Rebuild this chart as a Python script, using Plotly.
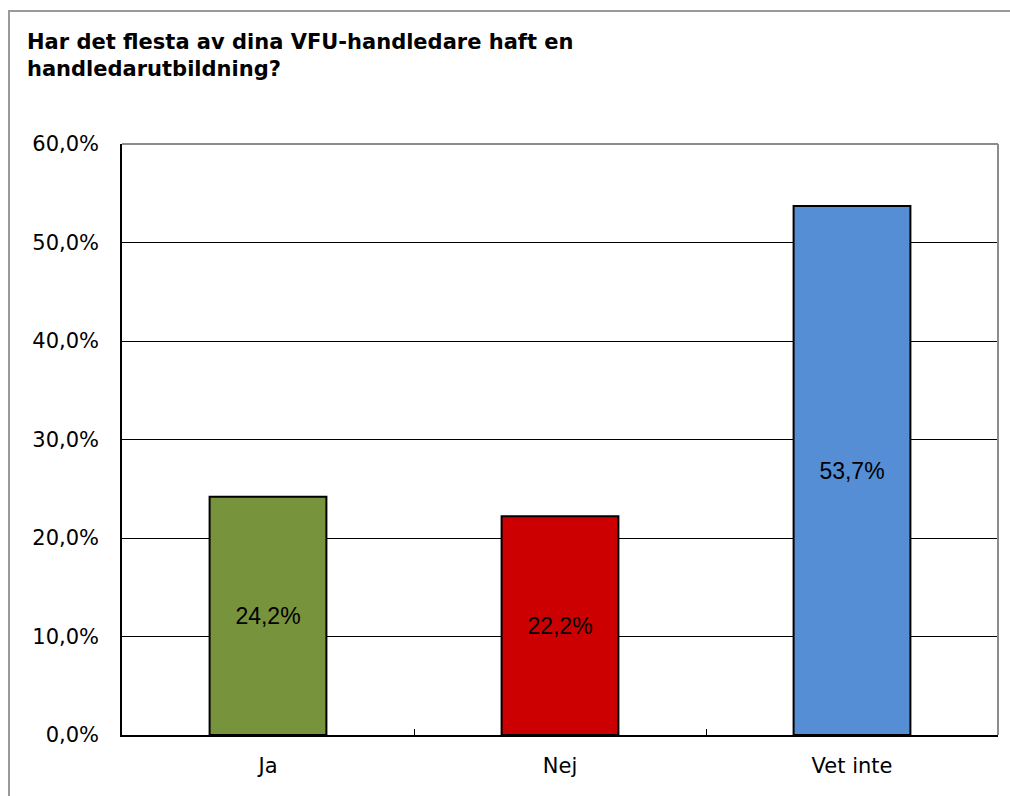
import plotly.graph_objects as go

categories = ["Ja", "Nej", "Vet inte"]
values = [24.2, 22.2, 53.7]
bar_labels = ["24,2%", "22,2%", "53,7%"]
bar_colors = ["#77933C", "#CC0000", "#558ED5"]
y_tickvals = [0, 10, 20, 30, 40, 50, 60]
y_ticktext = ["0,0%", "10,0%", "20,0%", "30,0%", "40,0%", "50,0%", "60,0%"]
title_text = "Har det flesta av dina VFU-handledare haft en<br>handledarutbildning?"

W, H = 1010, 796
L, R, T, B = 122, 12, 144, 61
pw, ph = W - L - R, H - T - B

def px_x(p):
    return (p - L) / pw

def px_y(p):
    return (H - B - p) / ph

fig = go.Figure()
fig.add_trace(go.Bar(
    x=categories, y=values,
    marker=dict(color=bar_colors, line=dict(color="black", width=2)),
    text=bar_labels, textposition="inside", insidetextanchor="middle",
    textfont=dict(family="Liberation Sans, Arial", size=23, color="black"),
    width=0.4, cliponaxis=False,
))

fig.update_layout(
    width=W, height=H,
    margin=dict(l=L, r=R, t=T, b=B, pad=0),
    paper_bgcolor="white", plot_bgcolor="white",
    showlegend=False,
    title=dict(
        text=title_text, xref="container", yref="container",
        x=27 / W, xanchor="left", y=1 - 49 / H, yanchor="top",
        font=dict(family="DejaVu Sans", size=21, color="black", weight="bold"),
    ),
    xaxis=dict(
        showgrid=False, showline=True, linecolor="black", linewidth=1.5,
        ticks="inside", tickson="boundaries", ticklen=6, tickcolor="black",
        tickfont=dict(family="DejaVu Sans", size=21, color="black"),
        zeroline=False, fixedrange=True,
    ),
    yaxis=dict(
        range=[0, 60], tickvals=y_tickvals, ticktext=y_ticktext,
        showgrid=True, gridcolor="black", gridwidth=1,
        showline=True, linecolor="black", linewidth=1.5,
        ticks="", tickfont=dict(family="DejaVu Sans", size=21, color="black"),
        zeroline=False, fixedrange=True,
    ),
    bargap=0.6,
)
fig.update_xaxes(ticklabelstandoff=11)
fig.update_yaxes(ticklabelstandoff=17)

# plot-area frame (top and right in grey)
fig.add_shape(type="line", xref="paper", yref="paper", x0=0, x1=1, y0=1, y1=1,
              line=dict(color="#8c8c8c", width=2))
fig.add_shape(type="line", xref="paper", yref="paper", x0=1, x1=1, y0=0, y1=1,
              line=dict(color="#8c8c8c", width=2))
# outer chart border
fig.add_shape(type="rect", xref="paper", yref="paper",
              x0=px_x(9), x1=px_x(1020), y0=px_y(806), y1=px_y(11),
              line=dict(color="#9a9a9a", width=2), layer="below")

fig.write_html("out.html", config={"displayModeBar": False},
               post_script="document.body.style.margin='0';document.body.style.overflow='hidden';")
